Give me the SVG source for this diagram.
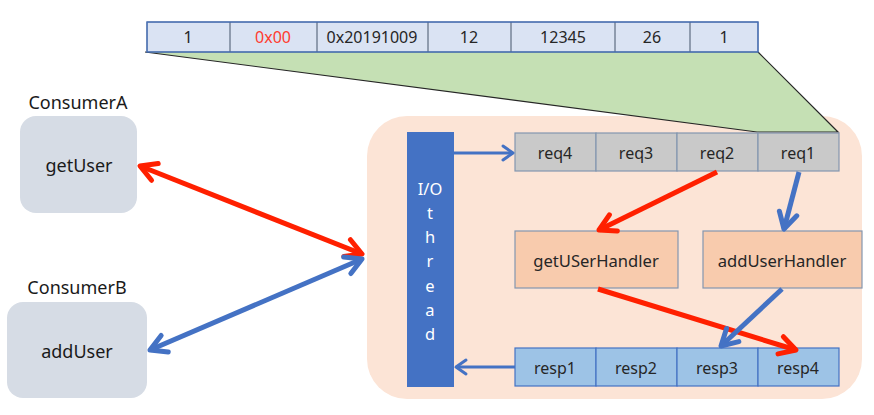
<svg xmlns="http://www.w3.org/2000/svg" width="874" height="415" viewBox="0 0 874 415">
<style>
text{font-family:"Noto Sans","Liberation Sans",sans-serif;font-size:16px;fill:#262626;text-anchor:middle;dominant-baseline:central}
.big{font-size:18px;fill:#1a1a1a}
.hdt{font-size:16.6px}
.cell{fill:#DAE3F3;stroke:#44546A;stroke-width:1}
.req{fill:#C9C9C9;stroke:#8497B0;stroke-width:1.2}
.resp{fill:#9DC3E6;stroke:#4472C4;stroke-width:1.2}
.hd{fill:#F8CBAD;stroke:#8497B0;stroke-width:1.2}
.cons{fill:#D6DCE5}
.red{stroke:#FF2000;stroke-width:5;fill:none}
.blue{stroke:#4472C4;stroke-width:5;fill:none}
.thin{stroke:#4472C4;stroke-width:3;fill:none}
.io{font-size:16.5px;fill:#fff}
</style>
<defs>
<marker id="ar" markerUnits="userSpaceOnUse" viewBox="-20 -12 24 24" refX="0" refY="0" markerWidth="24" markerHeight="24" orient="auto-start-reverse">
<path d="M-16,-9 L0,0 L-16,9" fill="none" stroke="#FF2000" stroke-width="5" stroke-linecap="round" stroke-linejoin="round"/>
</marker>
<marker id="ab" markerUnits="userSpaceOnUse" viewBox="-20 -12 24 24" refX="0" refY="0" markerWidth="24" markerHeight="24" orient="auto-start-reverse">
<path d="M-16,-9 L0,0 L-16,9" fill="none" stroke="#4472C4" stroke-width="5" stroke-linecap="round" stroke-linejoin="round"/>
</marker>
<marker id="at" markerUnits="userSpaceOnUse" viewBox="-14 -10 18 20" refX="0" refY="0" markerWidth="18" markerHeight="20" orient="auto-start-reverse">
<path d="M-10,-7 L0,0 L-10,7" fill="none" stroke="#4472C4" stroke-width="3" stroke-linecap="round" stroke-linejoin="round"/>
</marker>
</defs>

<g id="server">
<rect x="367" y="116" width="495" height="283" rx="40" fill="#FCE4D6"/>
</g>

<g id="zoom">
<polygon points="145,52 758,52 838,132 757,132" fill="#C5E0B4"/>
<polyline points="145,52 757,132 838,132 758,52" fill="none" stroke="#262626" stroke-width="1.2"/>
</g>

<g id="packet">
<rect class="cell" x="147" y="22" width="611" height="30"/>
<g stroke="#44546A" stroke-width="1">
<line x1="230" y1="22" x2="230" y2="52"/><line x1="317" y1="22" x2="317" y2="52"/><line x1="428" y1="22" x2="428" y2="52"/>
<line x1="511" y1="22" x2="511" y2="52"/><line x1="615" y1="22" x2="615" y2="52"/><line x1="690" y1="22" x2="690" y2="52"/>
</g>
<rect x="147" y="22" width="611" height="30" fill="none" stroke="#4472C4" stroke-width="1.2"/>
<text x="188" y="37">1</text>
<text x="273" y="37" style="fill:#FF3B30">0x00</text>
<text x="372" y="37">0x20191009</text>
<text x="469" y="37">12</text>
<text x="563" y="37">12345</text>
<text x="652" y="37">26</text>
<text x="724" y="37">1</text>
</g>

<g id="consumerA">
<text class="big" x="78" y="102">ConsumerA</text>
<rect class="cons" x="20" y="116" width="117" height="97" rx="16"/>
<text class="big" x="79" y="165">getUser</text>
</g>

<g id="consumerB">
<text class="big" x="77" y="287">ConsumerB</text>
<rect class="cons" x="7" y="302" width="140" height="96" rx="16"/>
<text class="big" x="77" y="351">addUser</text>
</g>

<g id="iothread">
<rect x="407" y="132" width="47" height="255" fill="#4472C4"/>
<text class="io" x="430" y="188">I/O</text>
<text class="io" x="430" y="212">t</text>
<text class="io" x="430" y="236">h</text>
<text class="io" x="430" y="260">r</text>
<text class="io" x="430" y="285">e</text>
<text class="io" x="430" y="309">a</text>
<text class="io" x="430" y="333">d</text>
</g>

<g id="reqQueue">
<rect class="req" x="515" y="133" width="81" height="38"/>
<rect class="req" x="596" y="133" width="81" height="38"/>
<rect class="req" x="677" y="133" width="81" height="38"/>
<rect class="req" x="758" y="133" width="81" height="38"/>
<text x="555" y="153">req4</text>
<text x="636" y="153">req3</text>
<text x="717" y="153">req2</text>
<text x="798" y="153">req1</text>
</g>

<g id="getUserHandler">
<rect class="hd" x="515" y="231" width="163" height="57"/>
<text class="hdt" x="596" y="260">getUSerHandler</text>
</g>

<g id="addUserHandler">
<rect class="hd" x="703" y="231" width="159" height="57"/>
<text class="hdt" x="782" y="260">addUserHandler</text>
</g>

<g id="respQueue">
<rect class="resp" x="515" y="348" width="81" height="38"/>
<rect class="resp" x="596" y="348" width="81" height="38"/>
<rect class="resp" x="677" y="348" width="81" height="38"/>
<rect class="resp" x="758" y="348" width="81" height="38"/>
<text x="555" y="368">resp1</text>
<text x="636" y="368">resp2</text>
<text x="717" y="368">resp3</text>
<text x="798" y="368">resp4</text>
</g>

<g id="connectors">
<line class="thin" x1="454" y1="153" x2="513" y2="153" marker-end="url(#at)"/>
<line class="thin" x1="515" y1="367" x2="456" y2="367" marker-end="url(#at)"/>
<line class="red" x1="717" y1="172" x2="599" y2="230" marker-end="url(#ar)"/>
<line class="blue" x1="799" y1="172" x2="784" y2="229" marker-end="url(#ab)"/>
<line class="red" x1="598" y1="289" x2="796" y2="350" marker-end="url(#ar)"/>
<line class="blue" x1="782" y1="289" x2="721" y2="346" marker-end="url(#ab)"/>
<line class="red" x1="140" y1="166" x2="362" y2="254" marker-start="url(#ar)" marker-end="url(#ar)"/>
<line class="blue" x1="150" y1="350" x2="362" y2="259" marker-start="url(#ab)" marker-end="url(#ab)"/>
</g>
</svg>
